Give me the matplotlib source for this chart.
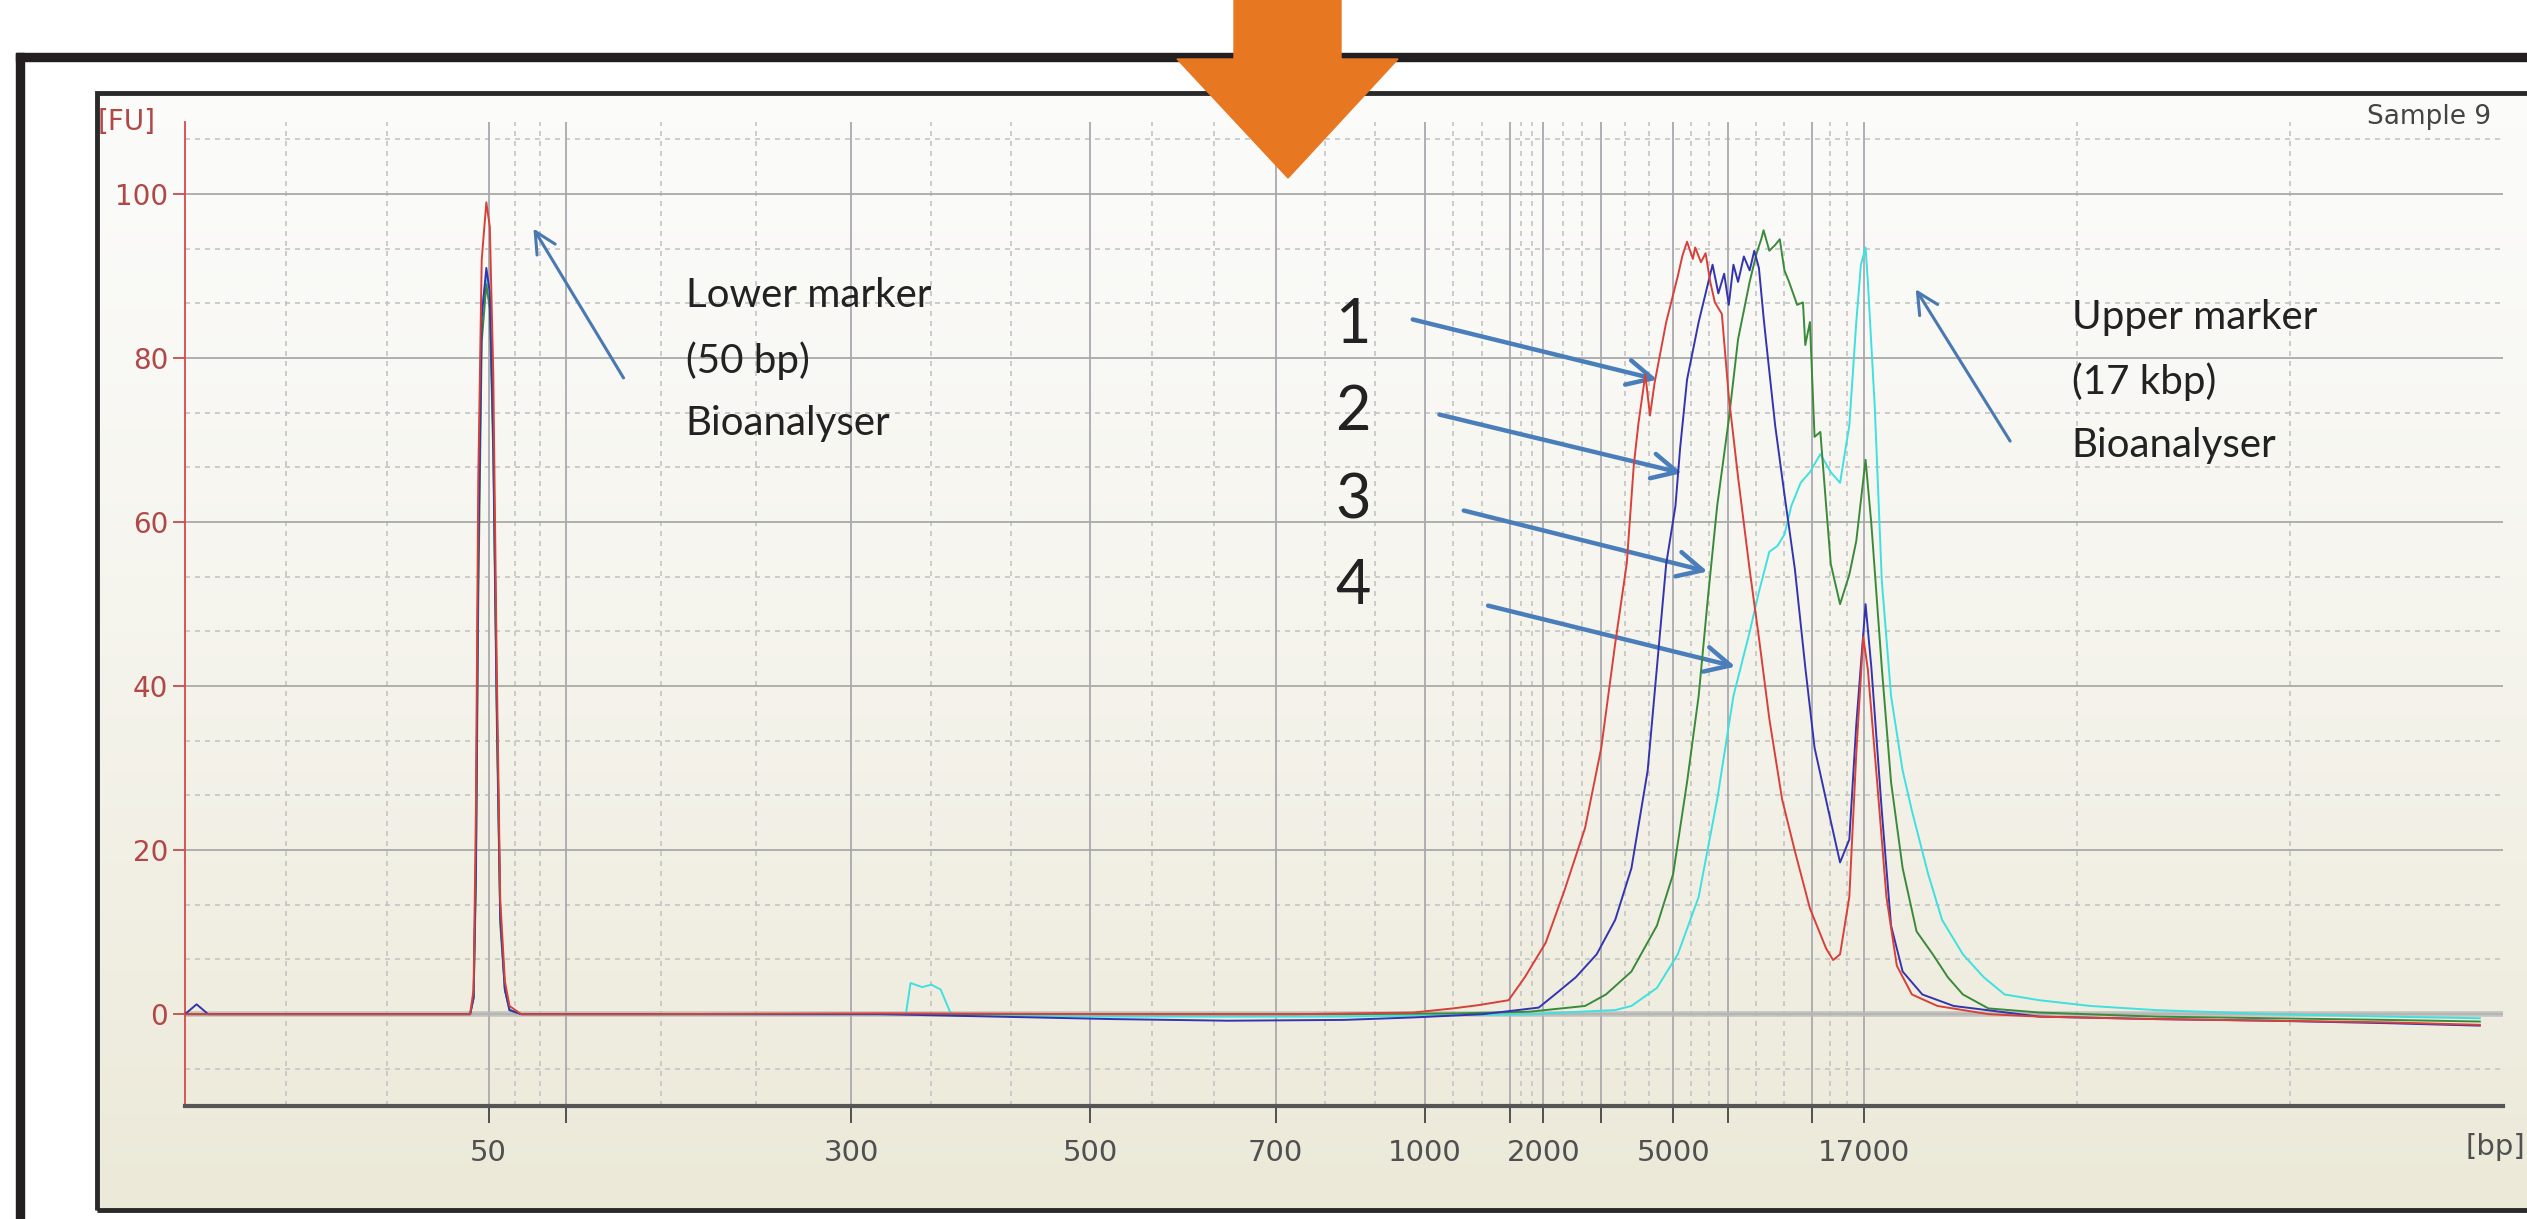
import numpy as np
import matplotlib.pyplot as plt
from matplotlib.patches import Rectangle, Polygon

W, H = 2527, 1219

# ---------------- DATA ---------------- #
# x is migration position along the electropherogram (0 = start of axis, 100 = end)
ladder_bp = [50, 100, 300, 500, 700, 1000, 1500, 2000, 3000, 5000, 7000, 10380, 17000]
ladder_pos = [13.1, 16.45, 28.75, 39.05, 47.05, 53.5, 57.15, 58.6, 61.1, 64.2, 66.55, 70.2, 72.45]
ladder_labels = ["50", "", "300", "500", "700", "1000", "", "2000", "", "5000", "", "", "17000"]
fu_ticks = [0, 20, 40, 60, 80, 100]

# sample 1 (red)
s1_t = [0, 5, 10, 12.3, 12.45, 12.55, 12.65, 12.8, 13.0, 13.15, 13.3, 13.45, 13.6, 13.8, 14.0, 14.5,
        20, 30, 40, 48, 53, 54.7, 55.8, 57.1, 57.8, 58.7, 59.5, 60.4, 61.1, 61.7, 62.2, 62.5, 62.7,
        63.0, 63.2, 63.4, 63.9, 64.4, 64.6, 64.8, 65.05, 65.15, 65.4, 65.6, 65.8, 66.0, 66.3, 66.6,
        67.0, 67.5, 67.9, 68.35, 68.9, 69.45, 70.1, 70.8, 71.1, 71.4, 71.8, 72.1, 72.4, 72.6, 73.0,
        73.4, 73.85, 74.5, 75.6, 77.8, 80, 85, 90, 95, 99]
s1_fu = [0, 0, 0, 0, 3, 25, 65, 92, 99, 96, 78, 42, 14, 4, 1, 0,
         0, 0.1, 0, 0, 0.2, 0.7, 1.1, 1.7, 4.5, 8.7, 15, 22.7, 32.5, 45.2, 55, 66.9, 72,
         78, 73, 77, 84.4, 90, 92.5, 94.2, 92.1, 93.5, 91.7, 92.8, 89.3, 86.8, 85.4, 75.3,
         65.5, 54.2, 45.9, 36, 26.2, 19.9, 12.9, 8, 6.6, 7.3, 14.3, 31.8, 46, 42, 28.3,
         14.3, 5.9, 2.4, 1, 0, -0.3, -0.6, -0.8, -1.0, -1.3]

# sample 2 (blue)
s2_t = [0, 0.5, 1, 5, 10, 12.3, 12.45, 12.55, 12.65, 12.8, 13.0, 13.15, 13.3, 13.45, 13.6, 13.8, 14.0,
        14.5, 20, 30, 35, 40, 45, 50, 53, 56, 58.4, 59.1, 60.0, 60.9, 61.7, 62.4, 63.1, 63.5, 63.9,
        64.3, 64.5, 64.8, 65.3, 65.6, 65.9, 66.15, 66.4, 66.6, 66.8, 67.0, 67.25, 67.5, 67.7, 67.9,
        68.1, 68.2, 68.6, 69.0, 69.45, 69.9, 70.3, 70.9, 71.4, 71.8, 72.1, 72.5, 72.75, 73.2, 73.6,
        74.1, 74.95, 76.3, 80, 85, 90, 95, 99]
s2_fu = [0, 1.2, 0, 0, 0, 0, 2, 18, 55, 85, 91, 88, 70, 38, 12, 3, 0.5,
         0, 0, 0, -0.3, -0.6, -0.8, -0.7, -0.4, 0, 0.8, 2.4, 4.5, 7.3, 11.5, 17.8, 29.7, 42.3, 54.9,
         62, 69, 77.4, 84.4, 87.9, 91.4, 87.9, 90.3, 86.5, 91.4, 89.3, 92.4, 90.7, 93.1, 91,
         85, 82.3, 71.8, 63.4, 54.3, 42.3, 32.5, 24.8, 18.5, 21.3, 35.3, 50, 42.3, 24.8, 10.8,
         5.2, 2.4, 1, -0.3, -0.6, -0.8, -1.1, -1.4]

# sample 3 (green)
s3_t = [0, 5, 10, 12.3, 12.45, 12.55, 12.65, 12.8, 13.0, 13.15, 13.3, 13.45, 13.6, 13.8, 14.0, 14.5,
        20, 30, 40, 50, 55, 58, 60.4, 61.3, 62.4, 63.5, 64.2, 64.8, 65.3, 65.7, 66.1, 66.6, 67.0,
        67.5, 67.8, 68.0, 68.1, 68.35, 68.6, 68.8, 69.0, 69.2, 69.55, 69.8, 69.9, 70.1, 70.3, 70.55,
        70.8, 71.0, 71.4, 71.8, 72.1, 72.5, 72.75, 73.2, 73.6, 74.1, 74.7, 75.4, 76.05, 76.7, 77.8,
        80, 85, 90, 95, 99]
s3_fu = [0, 0, 0, 0, 2, 16, 50, 82, 89, 86, 68, 36, 11, 3, 0.5, 0,
         0, 0, 0, 0, 0.1, 0.3, 1, 2.4, 5.2, 10.8, 17.1, 28.3, 38.8, 50.8, 62, 72.5, 82.3,
         89.3, 92.8, 94.5, 95.6, 93.1, 93.8, 94.5, 90.7, 89.3, 86.5, 86.8, 81.6, 84.4, 70.4, 71,
         62, 54.9, 50, 53.6, 57.7, 67.6, 59.8, 42.3, 28.3, 17.8, 10.1, 7.3, 4.5, 2.4, 0.7,
         0.2, -0.3, -0.5, -0.7, -0.9]

# sample 4 (cyan)
s4_t = [0, 5, 10, 12.3, 12.45, 12.55, 12.65, 12.8, 13.0, 13.15, 13.3, 13.45, 13.6, 13.8, 14.0, 14.5,
        20, 30, 31.1, 31.3, 31.8, 32.2, 32.6, 33.0, 33.2, 40, 50, 58, 61.7, 62.4, 63.5, 64.4, 65.3,
        66.1, 66.8, 67.5, 67.9, 68.35, 68.7, 69.0, 69.3, 69.7, 70.1, 70.55, 71.0, 71.4, 71.8, 72.1,
        72.3, 72.5, 72.6, 72.9, 73.2, 73.6, 74.1, 74.5, 75.2, 75.8, 76.7, 77.6, 78.5, 80.0, 82.2,
        85, 90, 95, 99]
s4_fu = [0, 0, 0, 0, 2, 20, 58, 86, 90, 87, 70, 38, 12, 3, 0.5, 0,
         0, 0, 0, 3.8, 3.3, 3.6, 3.0, 0.3, -0.2, -0.3, -0.3, 0, 0.5, 1, 3.2, 7.3, 14.3,
         26.2, 38.8, 46.6, 51.5, 56.4, 57.1, 58.5, 62, 64.8, 66.1, 68.3, 66.1, 64.8, 71.8, 84.4,
         91.4, 93.5, 89.3, 73.9, 52.9, 38.8, 29.7, 24.8, 17.1, 11.5, 7.3, 4.5, 2.4, 1.7, 1.0,
         0.5, 0, -0.3, -0.5]

# ---------------- FIGURE ---------------- #
def fx(px):
    return px / W

def fy(py):
    return 1 - py / H

fig = plt.figure(figsize=(W / 100, H / 100), dpi=100)
fig.patch.set_facecolor("white")

# panel background: white at top fading to beige
bg = fig.add_axes([fx(97), fy(1210), fx(W - 97), (1210 - 92) / H], zorder=0)
grad = np.linspace(0, 1, 256).reshape(-1, 1)
top_col = np.array([0.985, 0.985, 0.98])
bot_col = np.array([0.925, 0.914, 0.847])
img = top_col + (bot_col - top_col) * grad[..., None] ** 1.3
bg.imshow(img, aspect="auto", extent=[0, 1, 0, 1], origin="upper")
bg.axis("off")

ax = fig.add_axes([fx(185), fy(1106), fx(2503 - 185), (1106 - 122) / H], zorder=2)
ax.set_facecolor("none")
ax.set_xlim(0, 100)
ax.set_ylim(-11.2, 108.8)

# grid: solid at ladder / major FU, dashed at thirds between them
xedges = [0] + ladder_pos + [100]
xminor = []
for a, b in zip(xedges[:-1], xedges[1:]):
    xminor += [a + (b - a) / 3, a + 2 * (b - a) / 3]
ymajor = list(range(-20, 121, 20))
yminor = []
for a, b in zip(ymajor[:-1], ymajor[1:]):
    yminor += [a + (b - a) / 3, a + 2 * (b - a) / 3]

for v in xminor:
    ax.axvline(v, color="#c4c4c4", lw=1.2, ls=(0, (3, 3)), zorder=1)
for v in yminor:
    ax.axhline(v, color="#c4c4c4", lw=1.2, ls=(0, (3, 3)), zorder=1)
for v in ladder_pos:
    ax.axvline(v, color="#a9a9b0", lw=1.3, zorder=1)
for v in fu_ticks:
    ax.axhline(v, color="#a9a9a9", lw=1.3, zorder=1)
ax.axhline(0, color="#b8b8b8", lw=4, alpha=0.8, zorder=1)

# traces
ax.plot(s4_t, s4_fu, color="#3fe0e0", lw=1.4, zorder=3)
ax.plot(s3_t, s3_fu, color="#3a8a3a", lw=1.4, zorder=4)
ax.plot(s2_t, s2_fu, color="#3434b0", lw=1.4, zorder=5)
ax.plot(s1_t, s1_fu, color="#d8403a", lw=1.4, zorder=6)

# axes styling
for s in ["top", "right"]:
    ax.spines[s].set_visible(False)
ax.spines["left"].set_color("#d84848")
ax.spines["left"].set_linewidth(1.3)
ax.spines["bottom"].set_color("#555555")
ax.spines["bottom"].set_linewidth(3)

ax.set_xticks(ladder_pos)
ax.set_xticklabels(ladder_labels)
ax.set_yticks(fu_ticks)
ax.set_yticklabels([str(v) for v in fu_ticks])
ax.tick_params(axis="x", length=12, width=1.3, color="#444444", pad=12,
               labelsize=21, labelcolor="#505050")
ax.tick_params(axis="y", length=9, width=1.3, color="#c05050", pad=3,
               labelsize=20, labelcolor="#b04848")

fig.text(fx(98), fy(122), "[FU]", fontsize=20, color="#b04848", ha="left", va="center")
fig.text(fx(2525), fy(1147), "[bp]", fontsize=21, color="#505050", ha="right", va="center")
fig.text(fx(2491), fy(117), "Sample 9", fontsize=19, color="#444444", ha="right", va="center")

# annotations
note_font = "Lato"
ax.text(21.6, 79.8, "Lower marker\n(50 bp)\nBioanalyser", fontsize=29, family=note_font,
        color="#222222", va="center", ha="left", linespacing=1.85)
ax.text(81.4, 77.2, "Upper marker\n(17 kbp)\nBioanalyser", fontsize=29, family=note_font,
        color="#222222", va="center", ha="left", linespacing=1.85)
ax.annotate("", xy=(14.97, 96.1), xytext=(18.98, 77.3),
            arrowprops=dict(arrowstyle="->", color="#4a78b0", lw=2.2, mutation_scale=38))
ax.annotate("", xy=(74.6, 88.7), xytext=(78.8, 69.6),
            arrowprops=dict(arrowstyle="->", color="#4a78b0", lw=2.2, mutation_scale=38))

num_y = [84.0, 73.4, 62.6, 52.2]
tails = [(52.85, 84.8), (54.0, 73.2), (55.05, 61.5), (56.1, 49.9)]
heads = [(63.63, 77.3), (64.7, 65.9), (65.8, 53.9), (67.0, 42.3)]
for i, (yy, tl, hd) in enumerate(zip(num_y, tails, heads)):
    ax.text(50.4, yy, str(i + 1), fontsize=44, family=note_font, color="#222222",
            ha="center", va="center")
    ax.annotate("", xy=hd, xytext=tl,
                arrowprops=dict(arrowstyle="->", color="#4a7ebb", lw=3.2, mutation_scale=45))

# panel border and outer frame
fig.add_artist(Rectangle((fx(97), fy(1210)), fx(W - 97 + 20), (1210 - 93) / H,
                         transform=fig.transFigure, fill=False, ec="#2a2a2a", lw=3.5, zorder=5))
fig.add_artist(Rectangle((fx(16), fy(61)), fx(W), 8 / H, transform=fig.transFigure,
                         color="#231f20", zorder=6))
fig.add_artist(Rectangle((fx(16), fy(H + 5)), fx(8), (H + 5 - 53) / H, transform=fig.transFigure,
                         color="#231f20", zorder=6))

# orange arrow on top
arrow_px = [(1234, 0), (1341, 0), (1341, 59), (1398, 59), (1288, 178), (1177, 59), (1234, 59)]
fig.add_artist(Polygon([(fx(x), fy(y)) for x, y in arrow_px], closed=True,
                       transform=fig.transFigure, color="#e87722", zorder=10))

fig.savefig("out.png", dpi=100)
